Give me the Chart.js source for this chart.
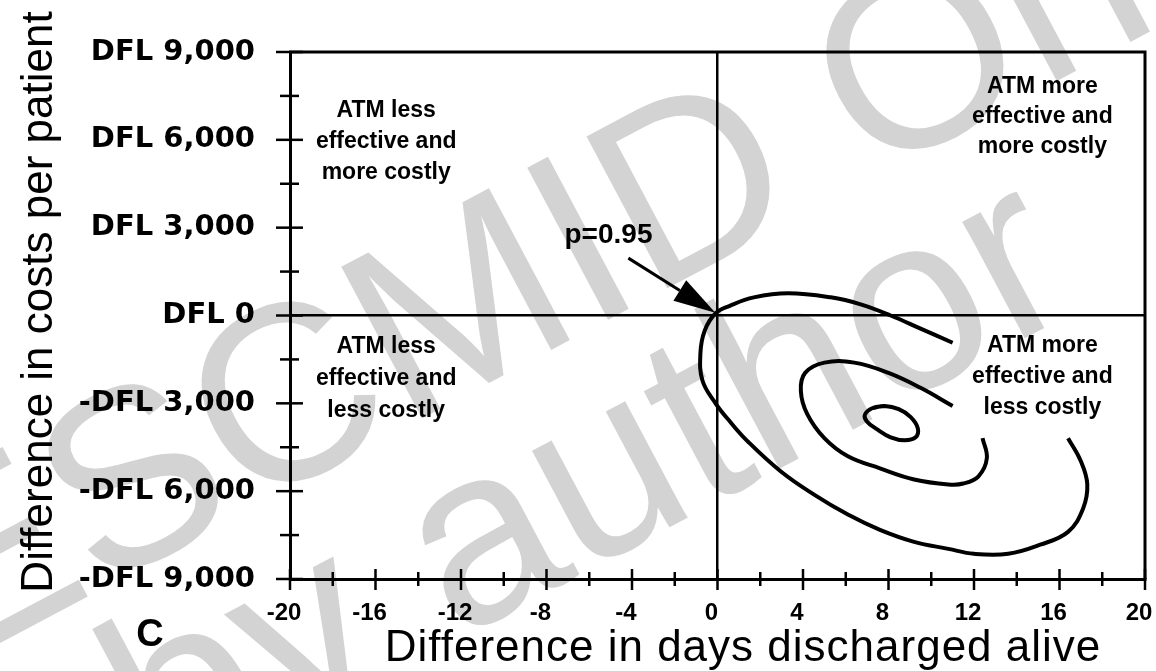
<!DOCTYPE html>
<html>
<head>
<meta charset="utf-8">
<script src="https://cdn.jsdelivr.net/npm/chart.js@4.4.0/dist/chart.umd.min.js"></script>
<style>
    html, body { margin: 0; padding: 0; background: #fff; }
    #wrap { width: 1156px; height: 671px; position: relative; }
</style>
</head>
<body>
<div id="wrap"><canvas id="costChart"></canvas></div>
<script>
// p=0.95 contour and inner contours (days, DFL)
var outerX = [11.0, 9.5, 8.1, 6.7, 5.3, 3.3, 1.7, 0.6, -0.1, -0.6, -0.8, -0.7, -0.1, 0.6, 1.4, 2.95, 4.5, 6.1, 7.6, 9.2, 10.8, 12.0, 13.6, 15.1, 16.4, 17.1, 17.3, 17.0, 16.4];
var outerY = [-930, -450, 0, 380, 620, 760, 620, 340, 70, -520, -1300, -2230, -2990, -3640, -4290, -5320, -6110, -6800, -7320, -7730, -7970, -8140, -8140, -7830, -7390, -6600, -5770, -4980, -4190];
var middleX = [11.0, 9.5, 8.0, 6.4, 5.0, 4.1, 3.9, 4.2, 5.0, 6.1, 7.6, 9.2, 10.8, 11.5, 12.2, 12.6, 12.4];
var middleY = [-3090, -2470, -1960, -1610, -1610, -1960, -2580, -3370, -4190, -4810, -5220, -5600, -5770, -5740, -5500, -4880, -4190];
// closed loop, last points run over the start again so the join stays round
var innerX = [7.26, 7.82, 8.48, 9.04, 9.37, 9.27, 8.76, 8.10, 7.45, 6.98, 6.90, 7.26, 7.82];
var innerY = [-3160, -3090, -3200, -3470, -3850, -4160, -4260, -4160, -3880, -3610, -3380, -3160, -3090];

// axes
var xTickValues = [-20, -18, -16, -14, -12, -10, -8, -6, -4, -2, 0, 2, 4, 6, 8, 10, 12, 14, 16, 18, 20];
var xLabelValues = [-20, -16, -12, -8, -4, 0, 4, 8, 12, 16, 20];
var xLabels = ['-20', '-16', '-12', '-8', '-4', '0', '4', '8', '12', '16', '20'];
var yTickValues = [-9000, -7500, -6000, -4500, -3000, -1500, 0, 1500, 3000, 4500, 6000, 7500, 9000];
var yLabelValues = [-9000, -6000, -3000, 0, 3000, 6000, 9000];
var yLabels = ['-DFL 9,000', '-DFL 6,000', '-DFL 3,000', 'DFL 0', 'DFL 3,000', 'DFL 6,000', 'DFL 9,000'];
var xTitle = 'Difference in days discharged alive';
var yTitle = 'Difference in costs per patient';
var panelLetter = 'C';

// quadrant notes: [x, y] anchor (middle line) in data units, then lines
var noteAnchors = [[-15.5, 5950], [15.2, 6800], [-15.5, -2170], [15.2, -2080]];
var noteLines = [
    ['ATM less', 'effective and', 'more costly'],
    ['ATM more', 'effective and', 'more costly'],
    ['ATM less', 'effective and', 'less costly'],
    ['ATM more', 'effective and', 'less costly']
];
var noteGaps = [31, 30, 32, 31];
var arrowText = 'p=0.95';
var arrowTextAt = [-5.1, 2750];
var arrowFrom = [-4.17, 1960];
var arrowTo = [-0.1, 90];
var watermarkLines = ['ESCMID Online', 'by author'];

function toPoints(xs, ys) {
    return xs.map(function(x, i) { return { x: x, y: ys[i] }; });
}

function labelFor(values, labels, v) {
    var i = values.indexOf(v);
    return i >= 0 ? labels[i] : '';
}

var paperPlugin = {
    id: 'paper',
    beforeDraw: function(chart) {
        var ctx = chart.ctx;
        ctx.save();
        ctx.fillStyle = '#fff';
        ctx.fillRect(0, 0, chart.width, chart.height);
        // grey watermark across the scan
        ctx.fillStyle = '#d3d3d3';
        ctx.font = '250px "Liberation Sans", Arial, sans-serif';
        ctx.textBaseline = 'alphabetic';
        ctx.translate(-10, 585);
        ctx.rotate(-28 * Math.PI / 180);
        ctx.fillText(watermarkLines[0], -75, 56);
        ctx.fillText(watermarkLines[1], 53, 268);
        ctx.restore();
    },
    afterDraw: function(chart) {
        var ctx = chart.ctx;
        var xs = chart.scales.x, ys = chart.scales.y;
        var a = chart.chartArea;
        ctx.save();
        ctx.strokeStyle = '#000';
        ctx.fillStyle = '#000';

        // frame top / right
        ctx.lineWidth = 3;
        ctx.beginPath();
        ctx.moveTo(a.left - 1, a.top);
        ctx.lineTo(a.right, a.top);
        ctx.lineTo(a.right, a.bottom);
        ctx.stroke();

        // tick marks crossing the axes
        ctx.lineWidth = 2.5;
        yTickValues.forEach(function(v) {
            var py = ys.getPixelForValue(v);
            var big = yLabelValues.indexOf(v) >= 0;
            ctx.beginPath();
            ctx.moveTo(a.left - (big ? 14 : 10), py);
            ctx.lineTo(a.left + (big ? 13 : 9), py);
            ctx.stroke();
        });
        xTickValues.forEach(function(v) {
            var px = xs.getPixelForValue(v);
            var big = xLabelValues.indexOf(v) >= 0;
            ctx.beginPath();
            ctx.moveTo(px, a.bottom - (big ? 10 : 7));
            ctx.lineTo(px, a.bottom + (big ? 11 : 7));
            ctx.stroke();
        });

        // arrow pointing at the p=0.95 contour
        var x0 = xs.getPixelForValue(arrowFrom[0]), y0 = ys.getPixelForValue(arrowFrom[1]);
        var x1 = xs.getPixelForValue(arrowTo[0]), y1 = ys.getPixelForValue(arrowTo[1]);
        var ang = Math.atan2(y1 - y0, x1 - x0);
        var headLen = 42, headHalf = 12;
        var bx = x1 - headLen * Math.cos(ang), by = y1 - headLen * Math.sin(ang);
        ctx.lineWidth = 3;
        ctx.beginPath();
        ctx.moveTo(x0, y0);
        ctx.lineTo(bx, by);
        ctx.stroke();
        ctx.beginPath();
        ctx.moveTo(x1, y1);
        ctx.lineTo(bx + headHalf * Math.sin(ang), by - headHalf * Math.cos(ang));
        ctx.lineTo(bx - headHalf * Math.sin(ang), by + headHalf * Math.cos(ang));
        ctx.closePath();
        ctx.fill();

        ctx.textAlign = 'center';
        ctx.textBaseline = 'middle';
        ctx.font = 'bold 28px "Liberation Sans", Arial, sans-serif';
        ctx.fillText(arrowText, xs.getPixelForValue(arrowTextAt[0]), ys.getPixelForValue(arrowTextAt[1]));

        // quadrant notes
        ctx.font = 'bold 23px "Liberation Sans", Arial, sans-serif';
        noteAnchors.forEach(function(p, k) {
            var cx = xs.getPixelForValue(p[0]), cy = ys.getPixelForValue(p[1]);
            noteLines[k].forEach(function(line, j) {
                ctx.fillText(line, cx, cy + (j - 1) * noteGaps[k]);
            });
        });

        // axis titles
        ctx.font = '44px "Liberation Sans", Arial, sans-serif';
        ctx.textBaseline = 'alphabetic';
        ctx.letterSpacing = '1px';
        ctx.fillText(xTitle, 743, 661);
        ctx.letterSpacing = '0px';
        ctx.save();
        ctx.translate(52, 302);
        ctx.rotate(-Math.PI / 2);
        ctx.fillText(yTitle, 0, 0);
        ctx.restore();

        ctx.font = 'bold 38px "Liberation Sans", Arial, sans-serif';
        ctx.textBaseline = 'middle';
        ctx.fillText(panelLetter, 150, 636);
        ctx.restore();
    }
};

var lineStyle = { showLine: true, pointRadius: 0, borderColor: '#000', borderWidth: 4, tension: 0.4, fill: false };

new Chart(document.getElementById('costChart'), {
    type: 'scatter',
    data: {
        datasets: [
            Object.assign({ label: 'p=0.95', data: toPoints(outerX, outerY) }, lineStyle),
            Object.assign({ label: 'middle', data: toPoints(middleX, middleY) }, lineStyle),
            Object.assign({ label: 'inner', data: toPoints(innerX, innerY) }, lineStyle)
        ]
    },
    options: {
        responsive: true,
        maintainAspectRatio: false,
        animation: false,
        devicePixelRatio: 1,
        layout: { padding: { left: 0, right: 11, top: 52, bottom: 0 } },
        plugins: { legend: { display: false }, tooltip: { enabled: false } },
        scales: {
            x: {
                type: 'linear', min: -20, max: 20,
                afterBuildTicks: function(s) { s.ticks = xTickValues.map(function(v) { return { value: v }; }); },
                afterFit: function(s) { s.height = 92; s.paddingLeft = 0; s.paddingRight = 0; },
                grid: {
                    drawTicks: false,
                    lineWidth: 2.5,
                    color: function(c) { return c.tick && c.tick.value === 0 ? '#000' : 'rgba(0,0,0,0)'; }
                },
                border: { display: true, color: '#000', width: 3 },
                ticks: {
                    autoSkip: false, maxRotation: 0, padding: 20, labelOffset: -6, color: '#000',
                    font: { family: '"Liberation Sans", Arial, sans-serif', size: 24, weight: 'bold' },
                    callback: function(v) { return labelFor(xLabelValues, xLabels, v); }
                }
            },
            y: {
                type: 'linear', min: -9000, max: 9000,
                afterBuildTicks: function(s) { s.ticks = yTickValues.map(function(v) { return { value: v }; }); },
                afterFit: function(s) { s.width = 290; s.paddingTop = 0; s.paddingBottom = 0; },
                grid: {
                    drawTicks: false,
                    lineWidth: 2.5,
                    color: function(c) { return c.tick && c.tick.value === 0 ? '#000' : 'rgba(0,0,0,0)'; }
                },
                border: { display: true, color: '#000', width: 3 },
                ticks: {
                    autoSkip: false, padding: 35, color: '#000',
                    font: { family: '"DejaVu Sans", sans-serif', size: 29, weight: 'bold' },
                    callback: function(v) { return labelFor(yLabelValues, yLabels, v); }
                }
            }
        }
    },
    plugins: [paperPlugin]
});
</script>
</body>
</html>
